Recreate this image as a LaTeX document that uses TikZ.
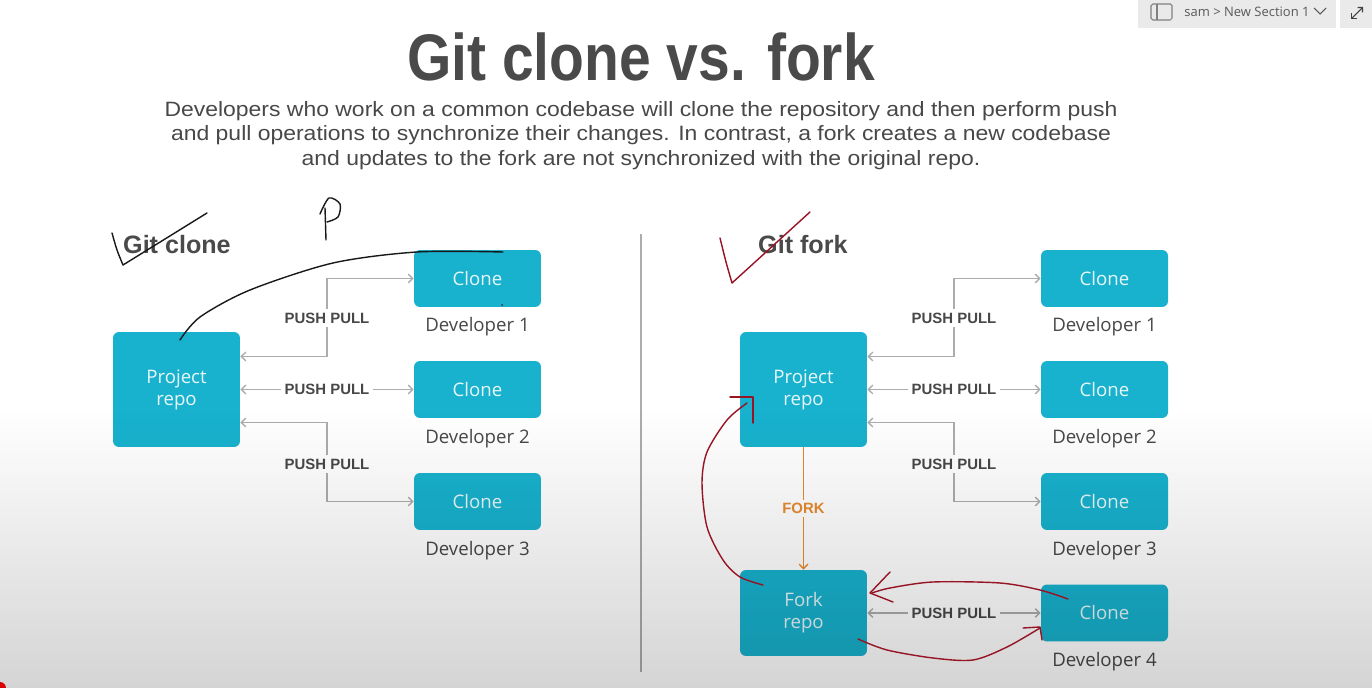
\documentclass[tikz,border=0pt]{standalone}
\usepackage{fontspec}
\usepackage{graphicx}
\setmainfont{Open Sans}
\newfontfamily\headfont{Liberation Sans}
\usetikzlibrary{arrows.meta, positioning, calc, fadings}

\definecolor{boxblue}{RGB}{24,178,206}
\definecolor{textgray}{RGB}{72,72,72}
\definecolor{titlegray}{RGB}{74,74,74}
\definecolor{linkgray}{RGB}{172,172,172}
\definecolor{forkorange}{RGB}{232,138,46}
\definecolor{inkred}{RGB}{150,20,36}
\definecolor{uigray}{RGB}{234,234,234}

\begin{document}
\begin{tikzpicture}[
    x=0.02cm, y=-0.02cm,                               % one unit = one pixel of the slide
    repo/.style={fill=boxblue, rounded corners=3.4pt, minimum width=2.54cm, minimum height=2.3cm,
                 inner sep=0pt, align=center, text=white!90!boxblue,
                 font=\fontsize{10.6}{12.5}\selectfont},
    clone/.style={repo, minimum height=1.14cm},        % Clone boxes
    dev/.style={text=textgray, font=\fontsize{10.6}{13}\selectfont},
    head/.style={text=titlegray, font=\headfont\bfseries\fontsize{14.3}{16}\selectfont},
    link/.style={draw=linkgray, line width=0.75pt},
    pp/.style={fill=white, inner sep=2pt, text=textgray, font=\headfont\bfseries\fontsize{8.5}{10}\selectfont},
    ink/.style={line width=0.8pt, line cap=round, line join=round},
    >={Straight Barb[length=2.6pt, width=5pt]}
]

% --- PAGE ---
\fill[white] (0,0) rectangle (1372,688);
\useasboundingbox (0,0) rectangle (1372,688);

% --- TITLE AND TEXT ---
\node[text=titlegray] (title) at (641,57)
    {\scalebox{0.865}[1]{\headfont\bfseries\fontsize{37.5}{40}\selectfont Git clone vs. fork}};
\node[text=textgray] (intro) at (641,136)
    {\scalebox{1.107}[1]{\headfont\fontsize{11.8}{13.9}\selectfont\begin{tabular}{@{}c@{}}
    Developers who work on a common codebase will clone the repository and then perform push\\
    and pull operations to synchronize their changes. In contrast, a fork creates a new codebase\\
    and updates to the fork are not synchronized with the original repo.
    \end{tabular}}};

% --- GIT CLONE ---
\node[head, anchor=west] (hclone) at (117,245) {Git clone};
\node[repo] (pr1) at (176.5,389.5) {Project\\repo};
\node[clone] (c1) at (477.5,278.5) {Clone};
\node[clone] (c2) at (477.5,389.5) {Clone};
\node[clone] (c3) at (477.5,501.5) {Clone};
\node[dev] (d1) at (477.5,327) {Developer 1};
\node[dev] (d2) at (477.5,439) {Developer 2};
\node[dev] (d3) at (477.5,551) {Developer 3};

\coordinate (s1) at (327,318);
\coordinate (s3) at (327,464);
\draw[link, <->] ([yshift=0.66cm]pr1.east) -| (s1) |- (c1.west);
\draw[link, <->] (pr1.east) -- node[pp] (pp2) {PUSH PULL} (c2.west);
\draw[link, <->] ([yshift=-0.66cm]pr1.east) -| (s3) |- (c3.west);
\node[pp] (pp1) at (s1) {PUSH PULL};
\node[pp] (pp3) at (s3) {PUSH PULL};

% --- DIVIDER ---
\draw[linkgray, line width=0.6pt] (641,234) -- (641,672);

% --- GIT FORK ---
\node[head, anchor=west] (hfork) at (752,245) {Git fork};
\node[repo] (pr2) at (803.5,389.5) {Project\\repo};
\node[repo, minimum height=1.72cm] (fr) at (803.5,613) {Fork\\repo};
\node[clone] (f1) at (1104.5,278.5) {Clone};
\node[clone] (f2) at (1104.5,389.5) {Clone};
\node[clone] (f3) at (1104.5,501.5) {Clone};
\node[clone] (f4) at (1104.5,613) {Clone};
\node[dev] (e1) at (1104.5,327) {Developer 1};
\node[dev] (e2) at (1104.5,439) {Developer 2};
\node[dev] (e3) at (1104.5,551) {Developer 3};
\node[dev] (e4) at (1104.5,662) {Developer 4};

\coordinate (t1) at (954,318);
\coordinate (t3) at (954,464);
\draw[link, <->] ([yshift=0.66cm]pr2.east) -| (t1) |- (f1.west);
\draw[link, <->] (pr2.east) -- node[pp] (qq2) {PUSH PULL} (f2.west);
\draw[link, <->] ([yshift=-0.66cm]pr2.east) -| (t3) |- (f3.west);
\node[pp] (qq1) at (t1) {PUSH PULL};
\node[pp] (qq3) at (t3) {PUSH PULL};
\draw[link, <->] (fr.east) -- node[pp] (qq4) {PUSH PULL} (f4.west);
\draw[forkorange, line width=0.75pt, ->] (pr2.south) -- node[pp, text=forkorange] (fk) {FORK} (fr.north);

% --- SHADOW OF THE SCREEN ---
\fill[black, opacity=0.17, path fading=north] (0,410) rectangle (1372,688);

% --- HANDWRITING ---
\draw[ink, black!90] plot[smooth] coordinates {(112,233) (117,250) (123,265)} -- (207,213);
\draw[ink, black!90] (326,240) -- (325,208);
\draw[ink, black!90] plot[smooth] coordinates {(320,214) (329,198) (340,204) (338,217) (327,222)};
\draw[ink, black!90] plot[smooth] coordinates {(180,340) (200,317) (250,290) (333,263) (417,252) (503,252)};
\fill[black!80] (502,305) circle (1);

\draw[ink, inkred] plot[smooth] coordinates {(720,238) (726,262) (732,283)} -- (810,212);
\draw[ink, inkred] plot[smooth] coordinates {(763,585) (740,577) (723,560) (707,527) (702,483) (707,452) (727,420) (747,403)};
\draw[ink, inkred] (730,397) -- (753,397) -- (753,423);
\draw[ink, inkred] plot[smooth] coordinates {(1068,599) (1040,590) (1000,583) (933,582) (890,588) (872,593)};
\draw[ink, inkred] (890,572) -- (870,593) -- (893,602);
\draw[ink, inkred] plot[smooth] coordinates {(858,639) (887,650) (933,658) (973,660) (1007,647) (1040,628)};
\draw[ink, inkred] (1023,628) -- (1040,627) -- (1042,640);

% --- NOTEBOOK BAR ---
\fill[uigray] (1138,0) rectangle (1336,28);
\fill[uigray] (1340,0) rectangle (1372,28);
\draw[gray, line width=0.6pt, rounded corners=1pt] (1151,4) rectangle (1172,20);
\draw[gray, line width=0.6pt] (1157,4) -- (1157,20);
\node[anchor=west, text=black!65, inner sep=0pt, font=\fontsize{7.4}{9}\selectfont] (crumb) at (1184,12) {sam > New Section 1};
\draw[black!65, line width=0.6pt] (1314,8) -- (1320,14) -- (1326,8);
\draw[black!75, line width=0.6pt, <->, >={Straight Barb[length=2pt, width=4pt]}] (1351,19) -- (1363,7);
\fill[red!85!black] (0,688) circle (6);

\end{tikzpicture}
\end{document}
